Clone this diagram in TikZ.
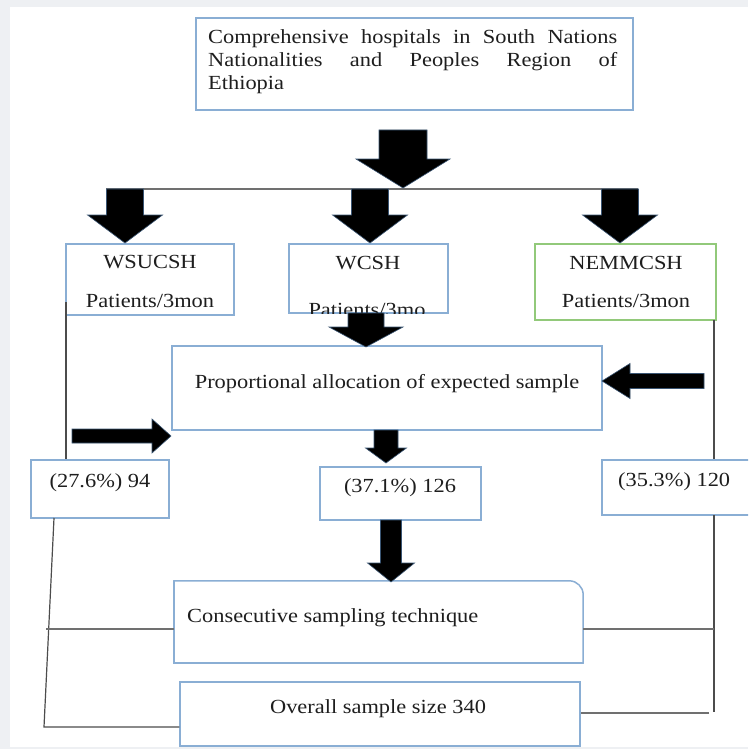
\documentclass[tikz,border=0pt]{standalone}
\usepackage{fontspec}
\setmainfont{Liberation Serif}[FakeStretch=1.12]
\usetikzlibrary{calc}
\definecolor{bbl}{HTML}{8AAED4}
\definecolor{bgr}{HTML}{92C97A}
\definecolor{pagebg}{HTML}{EEF0F3}
\definecolor{txt}{HTML}{1E1E1E}
\definecolor{lgray}{HTML}{707070}
\definecolor{arrowedge}{HTML}{3A5573}
\tikzset{
  box/.style={draw=bbl, line width=1.5pt, fill=white, inner sep=0pt},
  gbox/.style={box, draw=bgr},
  boxline/.style={draw=bbl, line width=1.5pt, line cap=round},
  lbl/.style={text=txt, font=\fontsize{20}{23}\selectfont, inner sep=0pt},
  blk/.style={fill=black, draw=arrowedge, line width=0.6pt, line join=miter},
  conn/.style={draw=black!70, line width=1.2pt},
  gline/.style={draw=lgray, line width=2.4pt},
}
% down block arrow: cx, top, shaft half, head y, head half, tip y
\newcommand\blkdn[6]{\path[blk] ({#1-#3},#2) -- ({#1+#3},#2) -- ({#1+#3},#4) -- ({#1+#5},#4) -- (#1,#6) -- ({#1-#5},#4) -- ({#1-#3},#4) -- cycle;}
% horizontal block arrow: cy, start x, shaft half, head x, head half, tip x
\newcommand\blkhz[6]{\path[blk] (#2,{#1-#3}) -- (#4,{#1-#3}) -- (#4,{#1-#5}) -- (#6,#1) -- (#4,{#1+#5}) -- (#4,{#1+#3}) -- (#2,{#1+#3}) -- cycle;}
\begin{document}
\begin{tikzpicture}[x=1pt,y=-1pt]
\clip (0,0) rectangle (748,749);
\fill[pagebg] (0,0) rectangle (748,749);
\fill[white] (10,7) rectangle (748,747);

% boxes
\node[box, minimum width=437pt, minimum height=92pt] (top) at (414.5,64) {};
\node[box, minimum width=168pt, minimum height=71pt] (wsucsh) at (150,279.5) {};
\node[box, minimum width=159pt, minimum height=69pt] (wcsh) at (368.5,278.5) {};
\node[gbox, minimum width=181pt, minimum height=76pt] (nemm) at (625.5,282) {};
\node[box, minimum width=430pt, minimum height=84pt] (prop) at (387,388) {};
\node[box, minimum width=138pt, minimum height=58pt] (pa) at (100,489) {};
\node[box, minimum width=161pt, minimum height=53pt] (pb) at (400.5,493.5) {};
\node[box, minimum width=170pt, minimum height=55pt] (pc) at (687,487.5) {};
\node[inner sep=0pt, minimum width=409pt, minimum height=82pt] (cons) at (378.5,622) {};
\draw[boxline, rounded corners=14pt] (cons.north west) -- (cons.north east) -- (cons.south east);
\draw[boxline] (cons.north west) -- (cons.south west) -- (cons.south east);
\node[box, minimum width=400pt, minimum height=64pt] (overall) at (380,714) {};

% texts
\node[lbl, text width=409pt, align=justify, anchor=base west] (topT) at (208,44)
  {Comprehensive hospitals in South Nations\linebreak Nationalities and Peoples Region of\linebreak Ethiopia};
\node[lbl, anchor=base] (wsucshA) at (150,268) {WSUCSH};
\node[lbl, anchor=base] (wsucshB) at (150,307) {Patients/3mon};
\node[lbl, anchor=base] (wcshA) at (368,269) {WCSH};
\begin{scope}
  \clip (wcsh.north west) rectangle (wcsh.south east);
  \node[lbl, anchor=base] (wcshB) at (367,316) {Patients/3mo};
\end{scope}
\node[lbl, anchor=base] (nemmA) at (626,269) {NEMMCSH};
\node[lbl, anchor=base] (nemmB) at (626,307) {Patients/3mon};
\node[lbl, anchor=base] (propT) at (387,388) {Proportional allocation of expected sample};
\node[lbl, anchor=base] (paT) at (100,487) {(27.6\%) 94};
\node[lbl, anchor=base] (pbT) at (400,492) {(37.1\%) 126};
\node[lbl, anchor=base west] (pcT) at (618,486) {(35.3\%) 120};
\node[lbl, anchor=base west] (consT) at (187,622) {Consecutive sampling technique};
\node[lbl, anchor=base] (overallT) at (378,713) {Overall sample size 340};

% connector lines
\coordinate (hl) at (106,189);
\coordinate (hr) at (638,189);
\draw[gline] (hl) -- (hr);
\coordinate (la) at (66,302);
\draw[conn] (la) -- (la |- pa.north);
\coordinate (lb) at (54,518);
\coordinate (lc) at (44,727);
\draw[conn] (lb) -- (lc) -- (lc -| overall.west);
\coordinate (ld) at (46,629);
\draw[gline] (ld) -- (ld -| cons.west);
\coordinate (ra) at (714,320);
\draw[conn] (ra) -- (ra |- pc.north);
\coordinate (rb) at (714,515);
\coordinate (rc) at (714,712);
\draw[conn] (rb) -- (rc);
\coordinate (re) at (709,713);
\draw[gline] (re) -- (re -| overall.east) ++(4,0);
\coordinate (rd) at (714,629);
\draw[gline] (rd) -- (rd -| cons.east);

% block arrows
\blkdn{403}{130}{24}{159}{47}{188}
\blkdn{125}{189}{18.5}{215}{37.5}{243}
\blkdn{370}{189}{18.5}{215}{37.5}{243}
\blkdn{620}{189}{18.5}{215}{37.5}{243}
\blkdn{366}{313}{18}{327}{37}{347}
\blkdn{386}{430}{12}{448}{20.5}{463}
\blkdn{391}{520}{10.5}{563}{23.5}{582}
\blkhz{381}{704}{7.5}{630}{17.5}{602}
\blkhz{436}{72}{7}{152}{17}{171}
\end{tikzpicture}
\end{document}
